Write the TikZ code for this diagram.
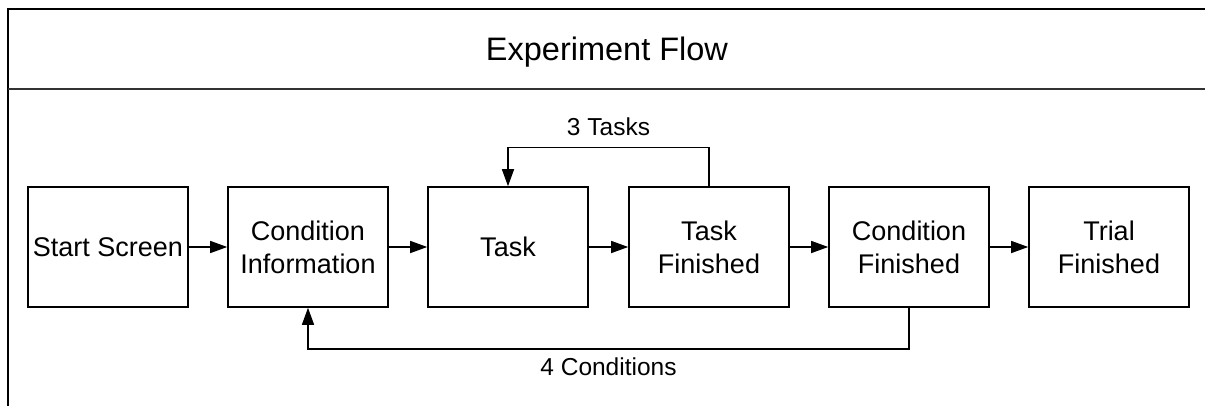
\documentclass[tikz,border=0pt]{standalone}
\usepackage{fontspec}
\setmainfont{Liberation Sans}
\usetikzlibrary{arrows.meta}
\tikzset{
  stage/.style={draw, line width=1.6pt, minimum width=160pt, minimum height=120pt,
    inner sep=2pt, align=center, font=\fontsize{27}{33}\selectfont},
  flow/.style={line width=1.4pt, -{Triangle[length=17pt,width=12pt]}},
  looplabel/.style={font=\fontsize{24.5}{29}\selectfont, inner sep=0pt},
  frame/.style={line width=2pt, line cap=rect}
}
\begin{document}
\begin{tikzpicture}[x=1pt,y=-1pt]
\useasboundingbox (0,0) rectangle (1205,405);
% pool frame: top edge, left edge, title separator
\draw[frame] (1210,9) -- (8,9) -- (8,410);
\draw[line width=1.6pt, black!80] (8,89) -- (1210,89);
\node[font=\fontsize{32.5}{38}\selectfont, anchor=base] (title) at (607,60) {Experiment Flow};

% stages
\node[stage] (start) at (108,247) {Start Screen};
\node[stage] (ci)    at (308,247) {Condition\\Information};
\node[stage] (task)  at (508,247) {Task};
\node[stage] (tf)    at (709,247) {Task\\Finished};
\node[stage] (cf)    at (909,247) {Condition\\Finished};
\node[stage] (trial) at (1109,247) {Trial\\Finished};

% main sequence
\draw[flow] (start) -- (ci);
\draw[flow] (ci) -- (task);
\draw[flow] (task) -- (tf);
\draw[flow] (tf) -- (cf);
\draw[flow] (cf) -- (trial);

% repetition loops
\draw[flow] (tf.north) -- ++(0,-39) -| node[pos=0.25, above=11pt, looplabel] (tasksloop) {3 Tasks} (task.north);
\draw[flow] (cf.south) -- ++(0,41) -| node[pos=0.25, below=8pt, looplabel] (condloop) {4 Conditions} (ci.south);
\end{tikzpicture}
\end{document}
